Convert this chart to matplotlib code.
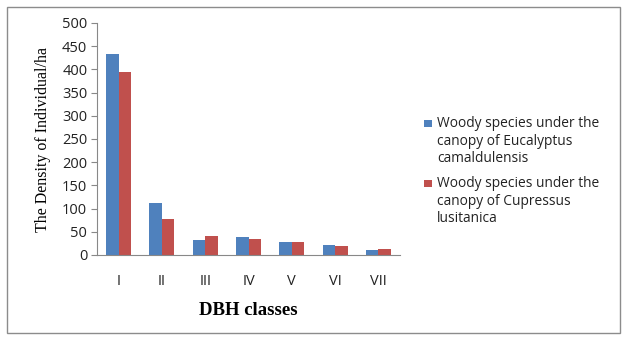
import matplotlib
matplotlib.use("Agg")
import matplotlib.pyplot as plt
import numpy as np
from matplotlib.patches import Rectangle

categories = ["I", "II", "III", "IV", "V", "VI", "VII"]
eucalyptus = [433, 112, 32, 39, 28, 22, 10]
cupressus = [394, 77, 42, 34, 27, 20, 12]
series_names = ["Woody species under the\ncanopy of Eucalyptus\ncamaldulensis",
                "Woody species under the\ncanopy of Cupressus\nlusitanica"]
series_colors = ["#4f81bd", "#c0504d"]
yticks = [0, 50, 100, 150, 200, 250, 300, 350, 400, 450, 500]

W, H = 628, 343
fig = plt.figure(figsize=(W/100, H/100), dpi=100)
fig.patches.append(Rectangle((7/W, 1-333/H), 613/W, 326/H, transform=fig.transFigure,
                             fill=False, edgecolor="#8c8c8c", linewidth=1))
ax = fig.add_axes([97/W, 1-255/H, 303/W, 232/H])
x = np.arange(len(categories))
w = 0.29
ax.bar(x - w/2, eucalyptus, w, color=series_colors[0], label=series_names[0])
ax.bar(x + w/2, cupressus, w, color=series_colors[1], label=series_names[1])
ax.set_xlim(-0.5, len(categories) - 0.5)
ax.set_ylim(0, 500)
ax.set_yticks(yticks)
ax.set_xticks(x)
ax.set_xticklabels(categories)
for s in ["top", "right"]:
    ax.spines[s].set_visible(False)
for s in ["left", "bottom"]:
    ax.spines[s].set_color("#888888")
ax.tick_params(axis="y", length=4, color="#888888", labelsize=10.5, pad=3)
ax.tick_params(axis="x", length=0, labelsize=10.5, pad=14)
for lab in ax.get_xticklabels() + ax.get_yticklabels():
    lab.set_family("Open Sans")
    lab.set_color("#222222")
ax.set_ylabel("The Density of Individual/ha", family="Liberation Serif", fontsize=11.5, labelpad=8)
ax.set_xlabel("DBH classes", family="Liberation Serif", fontsize=13.5, fontweight="bold", labelpad=9)

# legend (marker aligned with first text line)
entry_tops = [116, 176]
for name, col, top in zip(series_names, series_colors, entry_tops):
    fig.patches.append(Rectangle((424/W, 1-(top+11)/H), 7.5/W, 7.5/H, transform=fig.transFigure,
                                 facecolor=col, edgecolor="none"))
    fig.text(437/W, 1-top/H, name, ha="left", va="top", family="Open Sans", fontsize=9.9,
             linespacing=1.25, color="#222222")
fig.savefig("out.png", dpi=100)
